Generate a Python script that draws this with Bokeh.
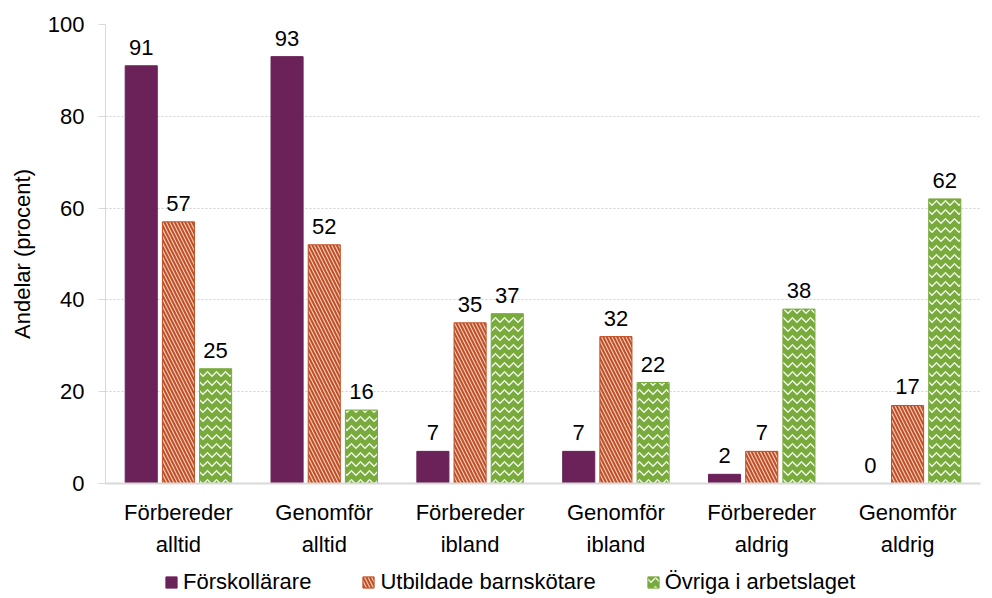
from bokeh.plotting import figure
from bokeh.layouts import column
from bokeh.models import ColumnDataSource, FactorRange, LabelSet, Legend, LegendItem
from bokeh.core.properties import value
from bokeh.transform import dodge
from bokeh.embed import file_html
from bokeh.resources import INLINE

categories = ["Förbereder\nalltid", "Genomför\nalltid", "Förbereder\nibland",
              "Genomför\nibland", "Förbereder\naldrig", "Genomför\naldrig"]
series_names = ["Förskollärare", "Utbildade barnskötare", "Övriga i arbetslaget"]
forskollarare = [91, 93, 7, 7, 2, 0]
barnskotare = [57, 52, 35, 32, 7, 17]
ovriga = [25, 16, 37, 22, 38, 62]
y_ticks = [0, 20, 40, 60, 80, 100]

FONT = "Liberation Sans"
FS = "22px"
colors = ["#6B2259", "#C24E22", "#78AA3C"]
hatches = [None, "left_diagonal_line", "horizontal_wave"]


def style_kw(i):
    kw = dict(fill_color=colors[i], line_color=colors[i], line_width=1)
    if i == 1:
        kw.update(hatch_pattern=hatches[i], hatch_color="white", hatch_alpha=0.7,
                  hatch_scale=7, hatch_weight=1.2)
    elif i == 2:
        kw.update(hatch_pattern=hatches[i], hatch_color="white", hatch_alpha=0.9,
                  hatch_scale=9, hatch_weight=1.3)
    return kw


src = ColumnDataSource(dict(
    cat=categories,
    s0=forskollarare, s1=barnskotare, s2=ovriga,
    l0=[str(v) for v in forskollarare],
    l1=[str(v) for v in barnskotare],
    l2=[str(v) for v in ovriga],
))

p = figure(width=992, height=560, x_range=FactorRange(*categories, range_padding=0),
           y_range=(0, 100), output_backend="svg", toolbar_location=None,
           min_border_left=105, min_border_top=24, min_border_right=12,
           min_border_bottom=77)
p.outline_line_color = None

offsets = [-0.255, 0.0, 0.255]
fields = ["s0", "s1", "s2"]
for i in range(3):
    p.vbar(x=dodge("cat", offsets[i], range=p.x_range), top=fields[i], width=0.22,
           source=src, **style_kw(i))
    lab = LabelSet(x=dodge("cat", offsets[i], range=p.x_range), y=fields[i],
                   text="l%d" % i, source=src, text_align="center",
                   text_baseline="bottom", y_offset=11, text_font=value(FONT),
                   text_font_size=value(FS), text_color="#000000")
    p.add_layout(lab)

p.xgrid.grid_line_color = None
p.ygrid.grid_line_color = "#D0D0D0"
p.ygrid.grid_line_dash = "2 2"
p.ygrid.grid_line_width = 1

p.yaxis.ticker = y_ticks
p.yaxis.axis_label = "Andelar (procent)"
p.yaxis.axis_label_text_font = FONT
p.yaxis.axis_label_text_font_size = FS
p.yaxis.axis_label_text_font_style = "normal"
p.yaxis.axis_label_text_color = "#000000"
p.yaxis.axis_label_standoff = 10
p.yaxis.major_label_text_font = FONT
p.yaxis.major_label_text_font_size = FS
p.yaxis.major_label_text_color = "#000000"
p.yaxis.axis_line_color = "#D9D9D9"
p.yaxis.major_tick_line_color = "#D9D9D9"
p.yaxis.major_tick_out = 7
p.yaxis.major_tick_in = 0
p.yaxis.minor_tick_line_color = None
p.yaxis.major_label_standoff = 14

p.xaxis.axis_line_color = "#D9D9D9"
p.xaxis.axis_line_width = 2
p.xaxis.major_tick_line_color = None
p.xaxis.minor_tick_line_color = None
p.xaxis.major_label_text_font = FONT
p.xaxis.major_label_text_font_size = FS
p.xaxis.major_label_text_color = "#000000"
p.xaxis.major_label_text_line_height = 1.3
p.xaxis.major_label_standoff = 10

# legend strip below the chart
lg = figure(width=992, height=38, x_range=(0, 1), y_range=(0, 1), output_backend="svg",
            toolbar_location=None, min_border_left=0, min_border_right=0,
            min_border_top=0, min_border_bottom=0)
lg.axis.visible = False
lg.grid.visible = False
lg.outline_line_color = None
dummy = ColumnDataSource(dict(x=[-10], top=[0]))
leg_renderers = [lg.vbar(x="x", top="top", width=0.1, source=dummy, **style_kw(i)) for i in range(3)]
legend = Legend(items=[LegendItem(label=series_names[i], renderers=[leg_renderers[i]]) for i in range(3)],
                orientation="horizontal", label_text_font=FONT, label_text_font_size=FS,
                label_text_color="#000000",
                glyph_width=14, glyph_height=14, spacing=50, label_standoff=5,
                border_line_color=None, background_fill_alpha=0, padding=0, margin=0,
                location=(59, 3))
lg.add_layout(legend, "center")

layout = column(p, lg, spacing=0)
open("out.html", "w").write(file_html(layout, INLINE))
